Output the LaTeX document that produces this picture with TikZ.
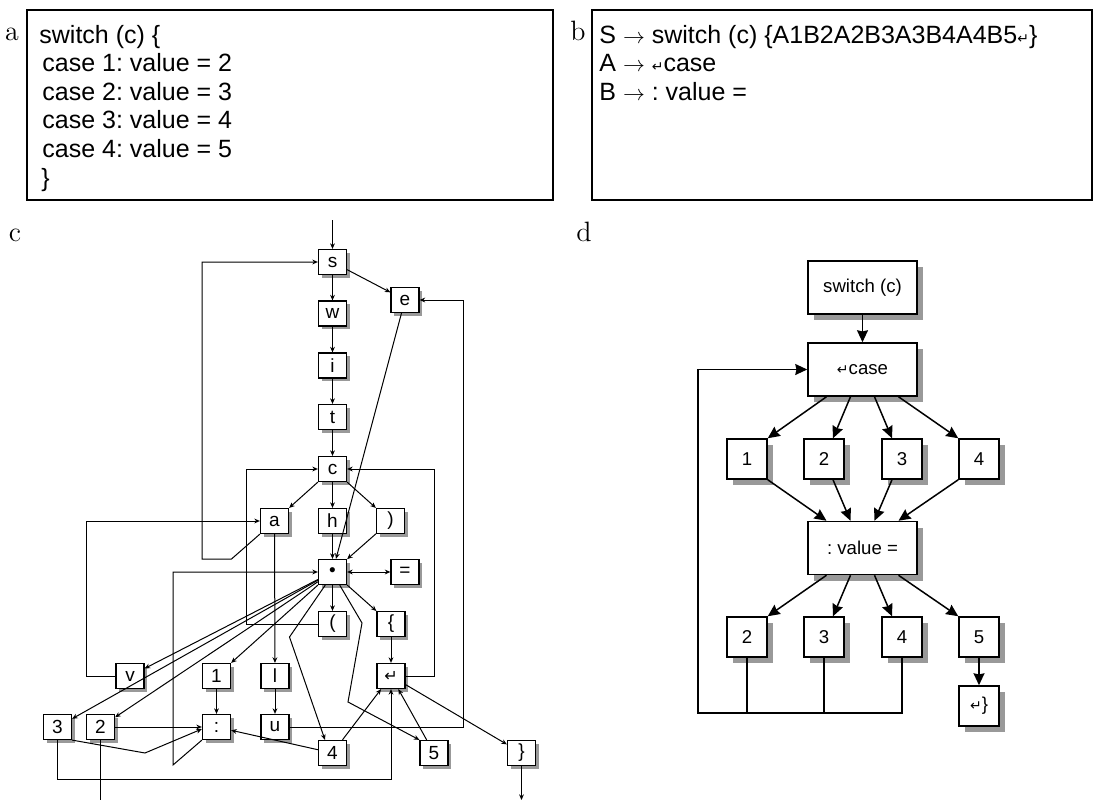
\documentclass[tikz,border=0pt]{standalone}
\usepackage{fontspec}
\newfontfamily\arialf{Liberation Sans}
\newfontfamily\djvf{DejaVu Sans}
\usetikzlibrary{arrows.meta,shadows,calc}
\newcommand{\retsym}[1]{{\djvf\fontsize{#1}{#1}\selectfont ↵}}
\newcommand{\rarr}{{\fontsize{11}{11}\selectfont$\rightarrow$}}
\frenchspacing
\begin{document}
\begin{tikzpicture}[x=0.5pt,y=-0.5pt,
  lab/.style={font=\fontsize{14}{14}\selectfont, anchor=base, inner sep=0pt},
  txt/.style={font=\arialf\fontsize{12.5}{15}\selectfont, anchor=base west, inner sep=0pt},
  panel/.style={draw, line width=0.6pt},
  cbox/.style={draw, line width=0.6pt, fill=white, minimum width=14pt, minimum height=12.5pt, inner sep=0pt,
    font=\arialf\fontsize{9.5}{11}\selectfont,
    drop shadow={shadow xshift=1.5pt,shadow yshift=-1.5pt,fill=black,opacity=0.4}},
  dsm/.style={draw, line width=0.75pt, fill=white, minimum width=20pt, minimum height=20pt, inner sep=0pt,
    font=\arialf\fontsize{9.3}{11}\selectfont,
    drop shadow={shadow xshift=3pt,shadow yshift=-3pt,fill=black,opacity=0.4}},
  dbig/.style={dsm, minimum width=54.5pt, minimum height=26.5pt},
  ce/.style={draw, line width=0.5pt, -{Stealth[length=2.8pt,width=2.4pt]}},
  cl/.style={draw, line width=0.5pt},
  de/.style={draw, line width=0.75pt, -{Stealth[length=6pt,width=5.5pt,inset=0.6pt]}},
  dl/.style={draw, line width=0.75pt}
]
\useasboundingbox (0,0) rectangle (1100,803);

% ---------- panel a ----------
\node[lab] (la) at (12,40) {a};
\draw[panel] (27,10) rectangle (553,200);
\node[txt] (a1) at (39,43) {switch (c) \{};
\node[txt] (a2) at (42,71.6) {case 1: value = 2};
\node[txt] (a3) at (42,100.2) {case 2: value = 3};
\node[txt] (a4) at (42,128.8) {case 3: value = 4};
\node[txt] (a5) at (42,157.4) {case 4: value = 5};
\node[txt] (a6) at (41,186) {\}};

% ---------- panel b ----------
\node[lab] (lb) at (578,40) {b};
\draw[panel] (592,10) rectangle (1092,200);
\node[txt] (b1) at (599,43) {S \rarr\ switch (c) \{A1B2A2B3A3B4A4B5\retsym{7}\}};
\node[txt] (b2) at (599,71.6) {A \rarr\ \retsym{7}case};
\node[txt] (b3) at (599,100.2) {B \rarr\ : value =};

% ---------- panel c ----------
\node[lab] (lc) at (15,241) {c};
\node[cbox] (s) at (332.5,262) {s};
\node[cbox] (e) at (405,300) {e};
\node[cbox] (w) at (332.5,313.5) {w};
\node[cbox] (i) at (332.5,365.5) {i};
\node[cbox] (t) at (332.5,417) {t};
\node[cbox] (c) at (332.5,469) {c};
\node[cbox] (a) at (274.5,521) {a};
\node[cbox] (h) at (332.5,521) {h};
\node[cbox] (rp) at (390.5,521) {)};
\node[cbox] (dot) at (332.5,572) {\textbullet};
\node[cbox] (eq) at (405,572) {=};
\node[cbox] (lp) at (332.5,624) {(};
\node[cbox] (lbr) at (391,624) {\{};
\node[cbox] (ret) at (391,676) {\retsym{8}};
\node[cbox] (n1) at (216.5,676) {1};
\node[cbox] (l) at (275,676) {l};
\node[cbox] (v) at (130,676) {v};
\node[cbox] (col) at (216.5,727) {:};
\node[cbox] (u) at (275,727) {u};
\node[cbox] (three) at (57.5,727) {3};
\node[cbox] (two) at (100.5,727) {2};
\node[cbox] (four) at (332.5,753) {4};
\node[cbox] (five) at (434,753) {5};
\node[cbox] (rbr) at (521.5,753) {\}};
\coordinate (cin) at (332.5,220);
\coordinate (cout) at (521.5,800);

\draw[ce] (cin) -- (s);
\draw[ce] (s) -- (w);
\draw[ce] (w) -- (i);
\draw[ce] (i) -- (t);
\draw[ce] (t) -- (c);
\draw[ce] (s) -- (e);
\draw[ce] (e) -- (dot);
\draw[ce] (c) -- (a);
\draw[ce] (c) -- (h);
\draw[ce] (c) -- (rp);
\draw[ce] (h) -- (dot);
\draw[ce] (rp) -- (dot);
\draw[draw, line width=0.5pt, {Stealth[length=2.8pt,width=2.4pt]}-{Stealth[length=2.8pt,width=2.4pt]}] (dot) -- (eq);
\draw[ce] (dot) -- (lp);
\draw[ce] (dot) -- (lbr);
\draw[ce] (lbr) -- (ret);
\draw[ce] (ret) -- (rbr);
\draw[ce] (rbr) -- (cout);
\draw[ce] (a) -- (l);
\draw[ce] (l) -- (u);
\draw[ce] (n1) -- (col);
\draw[ce] (dot) -- (v);
\draw[ce] (dot) -- (three);
\draw[ce] (dot) -- (two);
\draw[ce] (dot) -- (n1);
\draw[ce] ([xshift=-3.6pt]dot.south) -- (289.5,637) -- ([xshift=-3.75pt]four.north);
\draw[ce] ([xshift=3.6pt]dot.south) -- (362,623) -- (348,702) -- (five.north west);
\draw[ce] (a.south west) -- (231.5,559) -- (202,559) |- (s.west);
\draw[ce] (v.west) -- (86,676) |- (a.west);
\draw[ce] (lp.west) -- (246,624) |- (c.west);
\draw[ce] (ret.east) -- (434,676) |- (c.east);
\draw[ce] (u.east) -- (463,727) |- (e.east);
\draw[ce] (col.south west) -- (173,765) |- (dot.west);
\draw[ce] (two) -- (col);
\draw[ce] (three.south east) -- (145,753) -- ([yshift=-1pt]col.west);
\draw[ce] (three.south) -- (57.5,779) -| (ret.south);
\draw[cl] (two.south) -- (100.5,800);
\draw[ce] (four) -- (col);
\draw[ce] (four) -- (ret);
\draw[ce] (five) -- (ret);

% ---------- panel d ----------
\node[lab] (ld) at (584,241) {d};
\node[dbig] (sw) at (862.5,287.5) {switch (c)};
\node[dbig] (cs) at (862.5,369.5) {\retsym{7}case};
\node[dsm] (d1) at (747,459) {1};
\node[dsm] (d2) at (824,459) {2};
\node[dsm] (d3) at (902,459) {3};
\node[dsm] (d4) at (979,459) {4};
\node[dbig] (cv) at (862.5,548) {: value =};
\node[dsm] (e2) at (747,637) {2};
\node[dsm] (e3) at (824,637) {3};
\node[dsm] (e4) at (902,637) {4};
\node[dsm] (e5) at (979,637) {5};
\node[dsm] (rb2) at (979,706) {\retsym{7}\}};
\coordinate (lp2) at (698,713);

\draw[de] (sw) -- (cs);
\draw[de] ([xshift=-18pt]cs.south) -- (d1.north east);
\draw[de] ([xshift=-6pt]cs.south) -- ([xshift=4.5pt]d2.north);
\draw[de] ([xshift=6pt]cs.south) -- ([xshift=-5pt]d3.north);
\draw[de] ([xshift=18pt]cs.south) -- (d4.north west);
\draw[de] (d1.south east) -- ([xshift=-18pt]cv.north);
\draw[de] ([xshift=4.5pt]d2.south) -- ([xshift=-6pt]cv.north);
\draw[de] ([xshift=-5pt]d3.south) -- ([xshift=6pt]cv.north);
\draw[de] (d4.south west) -- ([xshift=18pt]cv.north);
\draw[de] ([xshift=-18pt]cv.south) -- (e2.north east);
\draw[de] ([xshift=-6pt]cv.south) -- ([xshift=4.5pt]e3.north);
\draw[de] ([xshift=6pt]cv.south) -- ([xshift=-5pt]e4.north);
\draw[de] ([xshift=18pt]cv.south) -- (e5.north west);
\draw[de] (e5) -- (rb2);
\draw[dl] (e2.south) -- (e2.south |- lp2);
\draw[dl] (e3.south) -- (e3.south |- lp2);
\draw[de] (e4.south) -- (e4.south |- lp2) -- (lp2) |- (cs.west);
\end{tikzpicture}
\end{document}
